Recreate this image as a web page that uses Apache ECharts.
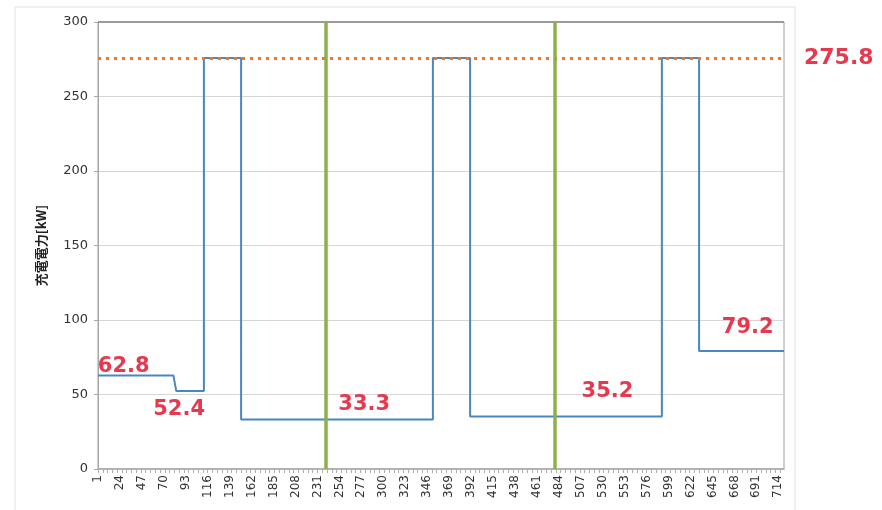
<!DOCTYPE html>
<html>
<head>
<meta charset="utf-8">
<script src="https://cdn.jsdelivr.net/npm/echarts@6/dist/echarts.min.js"></script>
<style>html,body{margin:0;padding:0;background:#fff;}#c{width:882px;height:510px;}</style>
</head>
<body>
<div id="c"></div>
<script>
// ---- data ----
var categoryCount = 720; // minutes 1..720
var categories = [];
for (var i = 1; i <= categoryCount; i++) categories.push(String(i));

// step profile breakpoints (category, kW)
var stepCategories = ['1','80','83','112','112','151','151','352','352','391','391','592','592','631','631','720'];
var stepValues     = [62.8, 62.8, 52.4, 52.4, 275.8, 275.8, 33.3, 33.3, 275.8, 275.8, 35.2, 35.2, 275.8, 275.8, 79.2, 79.2];

var maxPower = 275.8;
var markerCategories = ['240', '480'];

var labelTexts      = ['62.8', '52.4', '33.3', '35.2', '79.2'];
var labelCategories = ['28', '86', '280', '535', '682'];
var labelValues     = [62.8, 52.4, 33.3, 35.2, 79.2];
var labelOffsets    = [[0,-9],[0,19],[0,-15],[0,-25],[0,-23]];

var yTicks = [0, 50, 100, 150, 200, 250, 300];

// ---- chart ----
var lineData = stepCategories.map(function(c, i){ return [c, stepValues[i]]; });
var red = '#e6384e';
var markPoints = labelTexts.map(function(t, i){
  return {
    coord: [labelCategories[i], labelValues[i]],
    symbol: 'circle', symbolSize: 0,
    label: { show: true, formatter: t, offset: labelOffsets[i], position: 'inside',
      color: red, fontSize: 21, fontWeight: 'bold', fontFamily: 'DejaVu Sans' }
  };
});

var chart = echarts.init(document.getElementById('c'), null, {renderer: 'canvas'});
chart.setOption({
  animation: false,
  backgroundColor: '#fff',
  graphic: [{
    type: 'rect', shape: {x: 15, y: 7, width: 780, height: 510},
    style: {fill: 'none', stroke: '#e2e2e2', lineWidth: 1}, z: -1
  }],
  grid: { left: 98, right: 98, top: 22, bottom: 41, show: true, borderColor: '#a0a0a0', borderWidth: 1 },
  xAxis: {
    type: 'category', data: categories, boundaryGap: false,
    axisLine: { lineStyle: { color: '#a8a8a8', width: 1.5 } },
    axisTick: { show: true, interval: 4, length: 4, lineStyle: { color: '#b0b0b0' } },
    axisLabel: { interval: 22, rotate: 90, fontSize: 12, color: '#333', fontFamily: 'DejaVu Sans', margin: 6 },
    splitLine: { show: false }
  },
  yAxis: {
    type: 'value', min: yTicks[0], max: yTicks[yTicks.length-1], interval: 50,
    name: '充電電力[kW]', nameLocation: 'middle', nameGap: 50, nameRotate: 90,
    nameTextStyle: { fontSize: 13, fontWeight: 'bold', color: '#222', fontFamily: 'Noto Sans CJK JP' },
    axisLine: { show: true, lineStyle: { color: '#a8a8a8' } },
    axisTick: { show: true, length: 4, lineStyle: { color: '#a8a8a8' } },
    axisLabel: { fontSize: 13, color: '#333', fontFamily: 'DejaVu Sans', margin: 10 },
    splitLine: { lineStyle: { color: '#d6d6d6' } }
  },
  series: [{
    type: 'line', data: lineData, showSymbol: false, symbol: 'none',
    lineStyle: { color: '#4a86c0', width: 2 },
    markPoint: { data: markPoints, silent: true },
    markLine: {
      silent: true, symbol: 'none',
      data: [
        { yAxis: yTicks[yTicks.length-1], lineStyle: { color: '#888', width: 1.5, type: 'solid' }, label: { show: false } },
        { yAxis: maxPower, lineStyle: { color: '#e8782c', width: 3, type: [3, 5] },
          label: { show: true, position: 'end', distance: 20, formatter: String(maxPower),
            color: red, fontSize: 22, fontWeight: 'bold', fontFamily: 'DejaVu Sans' } },
        { xAxis: markerCategories[0], lineStyle: { color: '#8db04a', width: 3.5, type: 'solid' }, label: { show: false } },
        { xAxis: markerCategories[1], lineStyle: { color: '#8db04a', width: 3.5, type: 'solid' }, label: { show: false } }
      ]
    }
  }]
});
</script>
</body>
</html>
